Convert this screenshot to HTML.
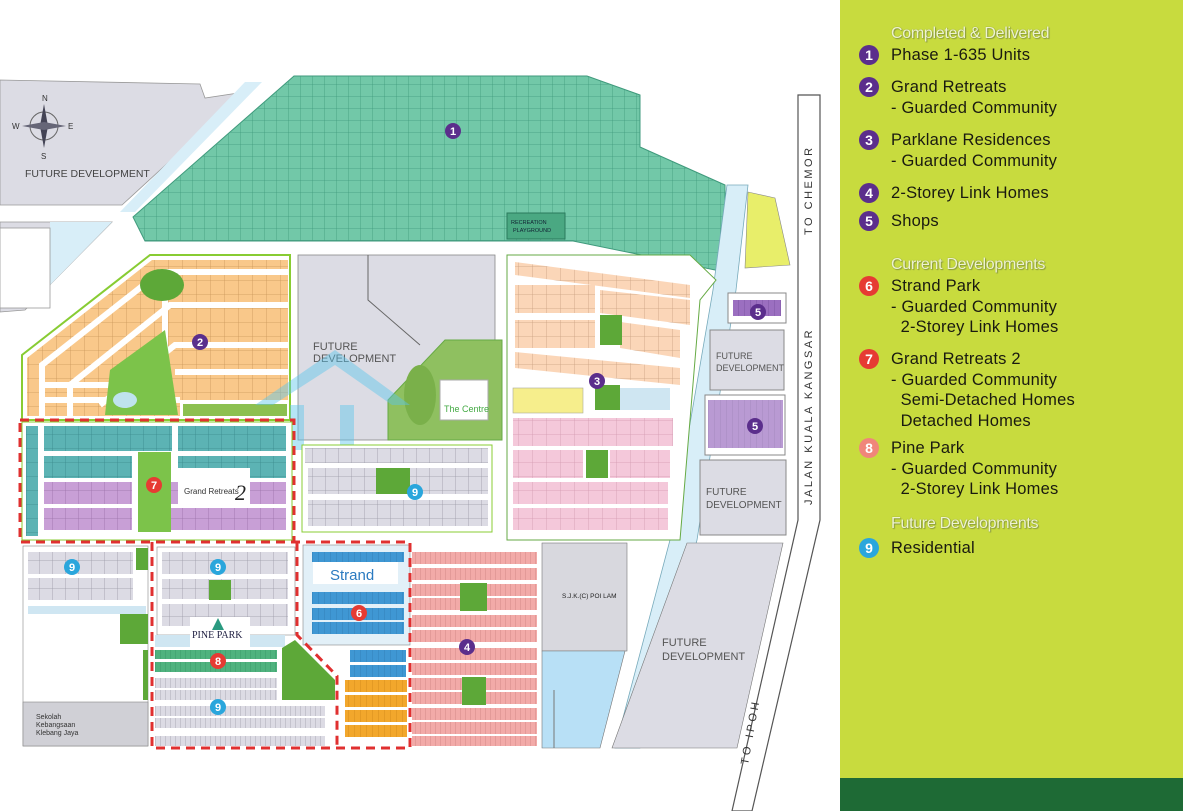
<!DOCTYPE html>
<html><head><meta charset="utf-8"><style>
body{margin:0;width:1183px;height:811px;overflow:hidden;background:#fff;font-family:"Liberation Sans",sans-serif;position:relative}
#panel{position:absolute;left:840px;top:0;width:343px;height:811px;background:#c8db3e}
#bar{position:absolute;left:840px;top:778px;width:343px;height:33px;background:#1e6a35}
.h{position:absolute;left:891px;font-size:16px;color:#eef3d0;text-shadow:0 0 1px #7a8a30,1px 1px 1px #8a9a40;letter-spacing:-0.3px}
.it{position:absolute;left:891px;font-size:16.5px;color:#1a1a10;line-height:20.5px;letter-spacing:0.2px}
.c{position:absolute;left:859px;width:20px;height:20px;border-radius:50%;color:#fff;font-weight:bold;font-size:14px;text-align:center;line-height:20px}
.p{background:#5b2e8c}.r{background:#e63b33}.o{background:#f0867a}.b{background:#2aa6dc}
svg{position:absolute;left:0;top:0}
</style></head><body>
<svg width="840" height="811" viewBox="0 0 840 811">
<defs>
<pattern id="g1" width="12" height="12" patternUnits="userSpaceOnUse"><rect width="12" height="12" fill="#72c8a8"/><path d="M0 0H12M0 0V12" stroke="#3f9a7c" stroke-width="0.8"/></pattern>
<pattern id="or" width="14" height="14" patternUnits="userSpaceOnUse"><rect width="14" height="14" fill="#f9c88a"/><path d="M0 0H14M0 0V14" stroke="#c9975a" stroke-width="0.8"/></pattern>
<pattern id="pe" width="14" height="14" patternUnits="userSpaceOnUse"><rect width="14" height="14" fill="#fbd6b8"/><path d="M0 0H14M0 0V14" stroke="#c9a080" stroke-width="0.8"/></pattern>
<pattern id="te" width="13" height="14" patternUnits="userSpaceOnUse"><rect width="13" height="14" fill="#5cb3b4"/><path d="M0 0H13M0 0V14" stroke="#3a8a8c" stroke-width="0.8"/></pattern>
<pattern id="pu" width="13" height="14" patternUnits="userSpaceOnUse"><rect width="13" height="14" fill="#c89fd6"/><path d="M0 0H13M0 0V14" stroke="#9a70a8" stroke-width="0.8"/></pattern>
<pattern id="gr" width="13" height="14" patternUnits="userSpaceOnUse"><rect width="13" height="14" fill="#dcdbe4"/><path d="M0 0H13M0 0V14" stroke="#9a99a6" stroke-width="0.8"/></pattern>
<pattern id="pk" width="14" height="14" patternUnits="userSpaceOnUse"><rect width="14" height="14" fill="#f4c8da"/><path d="M0 0H14M0 0V14" stroke="#d39ab0" stroke-width="0.8"/></pattern>
<pattern id="sa" width="5" height="14" patternUnits="userSpaceOnUse"><rect width="5" height="14" fill="#f2aaa8"/><path d="M0 0V14" stroke="#c77d7c" stroke-width="0.7"/></pattern>
<pattern id="bl" width="6" height="14" patternUnits="userSpaceOnUse"><rect width="6" height="14" fill="#3f97d3"/><path d="M0 0V14" stroke="#2a70a8" stroke-width="0.6"/></pattern>
<pattern id="yo" width="6" height="14" patternUnits="userSpaceOnUse"><rect width="6" height="14" fill="#f2a72c"/><path d="M0 0V14" stroke="#c47d10" stroke-width="0.6"/></pattern>
<pattern id="gl" width="5" height="14" patternUnits="userSpaceOnUse"><rect width="5" height="14" fill="#dcdbe4"/><path d="M0 0V14" stroke="#8a8a98" stroke-width="0.6"/></pattern>
<pattern id="gn" width="5" height="14" patternUnits="userSpaceOnUse"><rect width="5" height="14" fill="#4fb27e"/><path d="M0 0V14" stroke="#2f8a5a" stroke-width="0.6"/></pattern>
<pattern id="pu2" width="6" height="14" patternUnits="userSpaceOnUse"><rect width="6" height="14" fill="#9b6fc0"/><path d="M0 0V14" stroke="#6a4590" stroke-width="0.6"/></pattern>
</defs>
<!-- left future dev -->
<polygon points="0,80 200,84 205,98 245,92 122,205 0,205" fill="#dcdce4" stroke="#999" stroke-width="0.8"/>
<polygon points="0,222 112,222 25,310 0,312" fill="#dcdce4" stroke="#999" stroke-width="0.8"/>
<polygon points="50,222 112,222 50,285" fill="#d8eef8"/>
<rect x="0" y="228" width="50" height="80" fill="#fff" stroke="#999" stroke-width="0.8"/>
<polygon points="245,82 262,82 135,212 120,212" fill="#d8eef8"/>
<text x="25" y="177" font-size="10.5" fill="#444">FUTURE DEVELOPMENT</text>
<g transform="translate(44,126)"><circle r="14" fill="none" stroke="#666" stroke-width="1"/><polygon points="0,-22 4,0 0,22 -4,0" fill="#445"/><polygon points="-22,0 0,-4 22,0 0,4" fill="#667"/>
<text x="-2" y="-25" font-size="8" fill="#333">N</text><text x="-3" y="33" font-size="8" fill="#333">S</text><text x="-32" y="3" font-size="8" fill="#333">W</text><text x="24" y="3" font-size="8" fill="#333">E</text></g>
<!-- phase 1 -->
<polygon points="133,217 294,76 587,76 640,95 640,147 725,185 725,272 573,241 145,241" fill="url(#g1)" stroke="#3f9a7c" stroke-width="1"/>
<rect x="507" y="213" width="58" height="26" fill="#4aa882" stroke="#2a7a5c"/>
<text x="511" y="224" font-size="5.5" fill="#123">RECREATION</text><text x="513" y="232" font-size="5.5" fill="#123">PLAYGROUND</text>
<polygon points="748,192 775,198 790,265 745,268" fill="#e8ee6a" stroke="#888" stroke-width="0.6"/>
<!-- roads east -->
<polygon points="798,95 820,95 820,520 752,811 732,811 798,520" fill="#fff" stroke="#555" stroke-width="1.2"/>
<polygon points="727,185 748,185 736,290 697,540 640,748 615,748 670,540 713,290" fill="#d8eef8" stroke="#7ab" stroke-width="0.8"/>
<text transform="translate(812,505) rotate(-90)" font-size="11" fill="#333" letter-spacing="2.5">JALAN  KUALA  KANGSAR</text>
<text transform="translate(812,235) rotate(-90)" font-size="11" fill="#333" letter-spacing="2.5">TO  CHEMOR</text>
<text transform="translate(748,765) rotate(-80)" font-size="11" fill="#333" letter-spacing="3">TO  IPOH</text>
<!-- grand retreats -->
<polygon points="22,385 22,355 150,255 290,255 290,420 22,420" fill="#fff" stroke="#8c3" stroke-width="2"/>
<polygon points="27,416 27,358 152,260 288,260 288,400 180,400 180,416" fill="url(#or)"/>
<!-- white roads inside -->
<g stroke="#fff" stroke-width="6" fill="none">
<path d="M42 416 V365 L160 272 H288"/><path d="M70 416 V385 L170 305 H288"/><path d="M100 405 L175 345 H288"/>
<path d="M45 385 L110 385"/><path d="M165 272 V400"/><path d="M175 372 H288"/><path d="M40 400 H180"/>
</g>
<ellipse cx="162" cy="285" rx="22" ry="16" fill="#5da838"/>
<path d="M105 415 L110 370 L165 330 L178 415Z" fill="#7cc34a"/><ellipse cx="125" cy="400" rx="12" ry="8" fill="#bfe3ee"/>
<rect x="183" y="404" width="104" height="12" fill="#8cc050"/>
<!-- future dev center -->
<rect x="298" y="255" width="197" height="185" fill="#dcdce4" stroke="#888" stroke-width="0.8"/>
<path d="M368 255 V300 L420 345" stroke="#666" fill="none"/>
<text x="313" y="350" font-size="11" fill="#555">FUTURE</text><text x="313" y="362" font-size="11" fill="#555">DEVELOPMENT</text>
<polygon points="388,400 445,340 502,340 502,440 388,440" fill="#8fc060" stroke="#6a4" stroke-width="1"/>
<ellipse cx="420" cy="395" rx="16" ry="30" fill="#7ab04a"/><rect x="440" y="380" width="48" height="40" fill="#fff" stroke="#aaa"/>
<text x="444" y="412" font-size="9" fill="#4a4">The Centre</text>
<g fill="#5cc6ec" opacity="0.45"><polygon points="255,405 335,350 410,405 392,405 335,365 273,405"/><rect x="290" y="405" width="14" height="45"/><rect x="340" y="405" width="14" height="45"/></g>
<!-- parklane -->
<polygon points="507,255 690,255 716,280 700,300 680,540 507,540" fill="#fff" stroke="#6a4" stroke-width="1"/>
<polygon points="515,262 690,285 690,298 515,275" fill="url(#pe)"/>
<rect x="515" y="285" width="80" height="28" fill="url(#pe)"/><polygon points="600,290 690,300 690,325 600,313" fill="url(#pe)"/>
<rect x="515" y="320" width="80" height="28" fill="url(#pe)"/><polygon points="620,322 680,330 680,358 620,348" fill="url(#pe)"/>
<polygon points="515,352 680,368 680,385 515,368" fill="url(#pe)"/>
<rect x="513" y="388" width="70" height="25" fill="#f6ee8c" stroke="#aa9" stroke-width="0.6"/>
<rect x="595" y="385" width="25" height="25" fill="#5da838"/><rect x="620" y="388" width="50" height="22" fill="#cfe6f2"/>
<rect x="600" y="315" width="22" height="30" fill="#5da838"/>
<rect x="513" y="418" width="160" height="28" fill="url(#pk)"/><rect x="513" y="450" width="70" height="28" fill="url(#pk)"/><rect x="610" y="450" width="60" height="28" fill="url(#pk)"/>
<rect x="586" y="450" width="22" height="28" fill="#5da838"/>
<rect x="513" y="482" width="155" height="22" fill="url(#pk)"/><rect x="513" y="508" width="155" height="22" fill="url(#pk)"/>
<!-- shops -->
<rect x="728" y="293" width="58" height="30" fill="#fff" stroke="#888"/><rect x="733" y="300" width="48" height="16" fill="url(#pu2)"/>
<rect x="710" y="330" width="74" height="60" fill="#dcdce4" stroke="#888"/><text x="716" y="359" font-size="9" fill="#555">FUTURE</text><text x="716" y="371" font-size="9" fill="#555">DEVELOPMENT</text>
<rect x="705" y="395" width="80" height="60" fill="#fff" stroke="#888"/><rect x="708" y="400" width="75" height="48" fill="url(#pu2)" opacity="0.7"/>
<rect x="700" y="460" width="86" height="75" fill="#dcdce4" stroke="#888"/><text x="706" y="495" font-size="10" fill="#555">FUTURE</text><text x="706" y="508" font-size="10" fill="#555">DEVELOPMENT</text>
<!-- zone 7 -->
<rect x="22" y="422" width="270" height="118" fill="#fff" stroke="#8c3" stroke-width="1"/>
<rect x="26" y="426" width="12" height="110" fill="url(#te)"/>
<rect x="44" y="426" width="128" height="25" fill="url(#te)"/><rect x="178" y="426" width="108" height="25" fill="url(#te)"/>
<rect x="44" y="456" width="88" height="22" fill="url(#te)"/><rect x="178" y="456" width="108" height="22" fill="url(#te)"/>
<rect x="44" y="482" width="88" height="22" fill="url(#pu)"/><rect x="152" y="482" width="134" height="22" fill="url(#pu)"/>
<rect x="44" y="508" width="88" height="22" fill="url(#pu)"/><rect x="152" y="508" width="134" height="22" fill="url(#pu)"/>
<rect x="138" y="452" width="33" height="80" fill="#7cc34a"/>
<rect x="178" y="468" width="72" height="36" fill="#fff"/><text x="184" y="494" font-size="8" fill="#333">Grand Retreats</text><text x="235" y="500" font-size="22" font-style="italic" fill="#222" font-family="Liberation Serif">2</text>
<rect x="20" y="420" width="274" height="122" fill="none" stroke="#e03030" stroke-width="3" stroke-dasharray="9 6"/>
<!-- zone 9 centre -->
<rect x="302" y="445" width="190" height="87" fill="#fff" stroke="#8c3"/>
<rect x="305" y="448" width="183" height="15" fill="url(#gr)"/><rect x="308" y="468" width="180" height="26" fill="url(#gr)"/><rect x="308" y="500" width="180" height="26" fill="url(#gr)"/>
<rect x="376" y="468" width="34" height="26" fill="#5da838"/>
<!-- bottom left -->
<rect x="23" y="546" width="125" height="200" fill="#fff" stroke="#888" stroke-width="0.6"/>
<rect x="28" y="552" width="105" height="22" fill="url(#gr)"/><rect x="28" y="578" width="105" height="22" fill="url(#gr)"/>
<rect x="28" y="606" width="118" height="8" fill="#cfe6f2"/>
<rect x="136" y="548" width="12" height="22" fill="#5da838"/><rect x="120" y="614" width="28" height="30" fill="#5da838"/><rect x="143" y="650" width="5" height="50" fill="#5da838"/>
<rect x="23" y="702" width="125" height="44" fill="#d0d0d6" stroke="#888" stroke-width="0.6"/>
<text x="36" y="719" font-size="7" fill="#333">Sekolah</text><text x="36" y="727" font-size="7" fill="#333">Kebangsaan</text><text x="36" y="735" font-size="7" fill="#333">Klebang Jaya</text>
<!-- pine park -->
<rect x="157" y="547" width="138" height="88" fill="#fff" stroke="#888" stroke-width="0.6"/>
<rect x="162" y="552" width="126" height="22" fill="url(#gr)"/><rect x="162" y="579" width="126" height="20" fill="url(#gr)"/><rect x="162" y="604" width="126" height="22" fill="url(#gr)"/>
<rect x="209" y="580" width="22" height="20" fill="#5da838"/>
<rect x="155" y="635" width="130" height="12" fill="#cfe6f2"/>
<rect x="190" y="617" width="60" height="33" fill="#fff"/><text x="192" y="638" font-size="10" fill="#224" font-family="Liberation Serif">PINE PARK</text><polygon points="218,618 212,630 224,630" fill="#2a9a80"/>
<rect x="155" y="650" width="122" height="9" fill="url(#gn)"/><rect x="155" y="662" width="122" height="10" fill="url(#gn)"/>
<rect x="155" y="678" width="122" height="10" fill="url(#gl)"/><rect x="155" y="690" width="122" height="10" fill="url(#gl)"/>
<rect x="155" y="706" width="170" height="10" fill="url(#gl)"/><rect x="155" y="718" width="170" height="10" fill="url(#gl)"/><rect x="155" y="736" width="170" height="10" fill="url(#gl)"/>
<polygon points="282,648 295,640 335,680 335,700 282,700" fill="#5da838"/>
<!-- strand park -->
<rect x="303" y="545" width="107" height="100" fill="#e2f0f8" stroke="#888" stroke-width="0.6"/>
<rect x="312" y="552" width="92" height="10" fill="url(#bl)"/>
<rect x="313" y="562" width="85" height="22" fill="#fff"/><text x="330" y="580" font-size="15" fill="#2a7ac0">Strand</text>
<rect x="312" y="592" width="92" height="12" fill="url(#bl)"/><rect x="312" y="608" width="92" height="12" fill="url(#bl)"/><rect x="312" y="622" width="92" height="12" fill="url(#bl)"/>
<rect x="350" y="650" width="56" height="12" fill="url(#bl)"/><rect x="350" y="665" width="56" height="12" fill="url(#bl)"/>
<rect x="345" y="680" width="62" height="12" fill="url(#yo)"/><rect x="345" y="695" width="62" height="12" fill="url(#yo)"/>
<rect x="345" y="710" width="62" height="12" fill="url(#yo)"/><rect x="345" y="725" width="62" height="12" fill="url(#yo)"/>
<g fill="none" stroke="#e03030" stroke-width="3" stroke-dasharray="9 6">
<path d="M152 542 V748 H410 V542 H152"/><path d="M297 542 V635 L337 676 V748"/></g>
<!-- zone 4 -->
<g fill="url(#sa)">
<rect x="412" y="552" width="125" height="12"/><rect x="412" y="568" width="125" height="12"/>
<rect x="412" y="584" width="125" height="12"/><rect x="412" y="598" width="125" height="12"/>
<rect x="412" y="615" width="125" height="12"/><rect x="412" y="630" width="125" height="12"/>
<rect x="412" y="648" width="125" height="12"/><rect x="412" y="663" width="125" height="12"/>
<rect x="412" y="678" width="125" height="12"/><rect x="412" y="692" width="125" height="12"/>
<rect x="412" y="708" width="125" height="12"/><rect x="412" y="722" width="125" height="12"/>
<rect x="412" y="736" width="125" height="10"/></g>
<rect x="460" y="583" width="27" height="28" fill="#5da838"/><rect x="462" y="677" width="24" height="28" fill="#5da838"/>
<!-- sjk + blue + future -->
<rect x="542" y="543" width="85" height="108" fill="#d8d8de" stroke="#777" stroke-width="0.6"/>
<text x="562" y="598" font-size="6.5" fill="#222">S.J.K.(C) POI LAM</text>
<polygon points="542,651 625,651 600,748 542,748" fill="#b8e0f6" stroke="#777" stroke-width="0.6"/>
<path d="M554 690 V748" stroke="#777"/>
<polygon points="687,543 783,543 737,748 612,748" fill="#dcdce4" stroke="#777" stroke-width="0.6"/>
<text x="662" y="646" font-size="11" fill="#555">FUTURE</text><text x="662" y="660" font-size="11" fill="#555">DEVELOPMENT</text>
<!-- markers -->
<g font-size="11" font-weight="bold" fill="#fff" text-anchor="middle">
<circle cx="453" cy="131" r="8" fill="#5b2e8c"/><text x="453" y="135">1</text>
<circle cx="200" cy="342" r="8" fill="#5b2e8c"/><text x="200" y="346">2</text>
<circle cx="597" cy="381" r="8" fill="#5b2e8c"/><text x="597" y="385">3</text>
<circle cx="467" cy="647" r="8" fill="#5b2e8c"/><text x="467" y="651">4</text>
<circle cx="758" cy="312" r="8" fill="#5b2e8c"/><text x="758" y="316">5</text>
<circle cx="755" cy="426" r="8" fill="#5b2e8c"/><text x="755" y="430">5</text>
<circle cx="359" cy="613" r="8" fill="#e63b33"/><text x="359" y="617">6</text>
<circle cx="154" cy="485" r="8" fill="#e63b33"/><text x="154" y="489">7</text>
<circle cx="218" cy="661" r="8" fill="#e63b33"/><text x="218" y="665">8</text>
<circle cx="415" cy="492" r="8" fill="#2aa6dc"/><text x="415" y="496">9</text>
<circle cx="72" cy="567" r="8" fill="#2aa6dc"/><text x="72" y="571">9</text>
<circle cx="218" cy="567" r="8" fill="#2aa6dc"/><text x="218" y="571">9</text>
<circle cx="218" cy="707" r="8" fill="#2aa6dc"/><text x="218" y="711">9</text>
</g>
</svg>
<div id="panel"></div><div id="bar"></div>
<div class="h" style="top:25px">Completed &amp; Delivered</div>
<div class="c p" style="top:45px">1</div><div class="it" style="top:45px">Phase 1-635 Units</div>
<div class="c p" style="top:77px">2</div><div class="it" style="top:77px">Grand Retreats<br>- Guarded Community</div>
<div class="c p" style="top:130px">3</div><div class="it" style="top:130px">Parklane Residences<br>- Guarded Community</div>
<div class="c p" style="top:183px">4</div><div class="it" style="top:183px">2-Storey Link Homes</div>
<div class="c p" style="top:211px">5</div><div class="it" style="top:211px">Shops</div>
<div class="h" style="top:256px">Current Developments</div>
<div class="c r" style="top:276px">6</div><div class="it" style="top:276px">Strand Park<br>- Guarded Community<br>&nbsp;&nbsp;2-Storey Link Homes</div>
<div class="c r" style="top:349px">7</div><div class="it" style="top:349px">Grand Retreats 2<br>- Guarded Community<br>&nbsp;&nbsp;Semi-Detached Homes<br>&nbsp;&nbsp;Detached Homes</div>
<div class="c o" style="top:438px">8</div><div class="it" style="top:438px">Pine Park<br>- Guarded Community<br>&nbsp;&nbsp;2-Storey Link Homes</div>
<div class="h" style="top:515px">Future Developments</div>
<div class="c b" style="top:538px">9</div><div class="it" style="top:538px">Residential</div>
</body></html>
